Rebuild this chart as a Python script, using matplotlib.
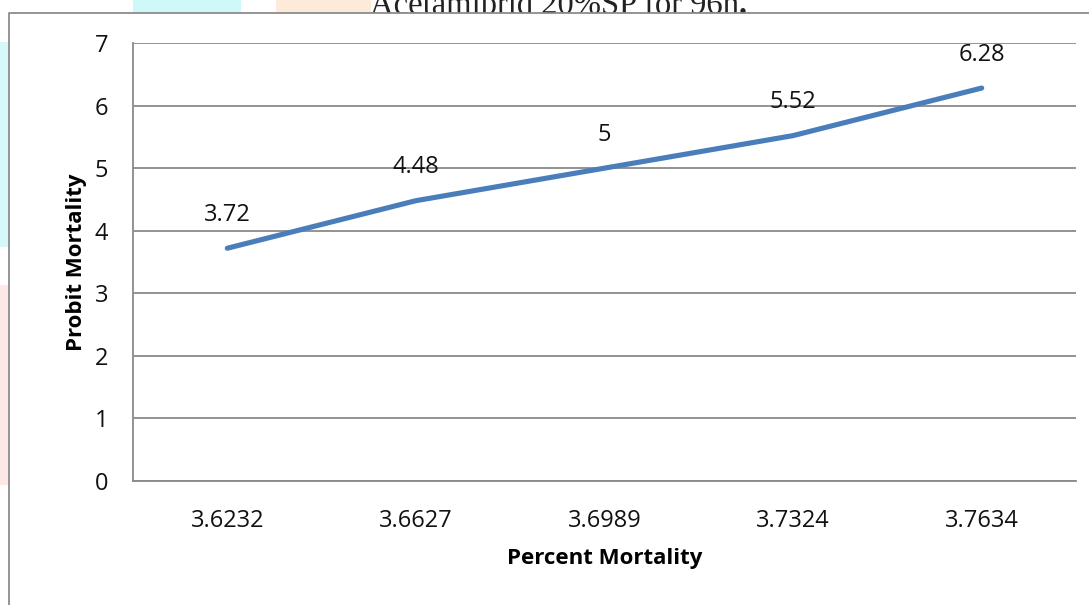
import matplotlib
matplotlib.use("Agg")
import matplotlib.pyplot as plt
from matplotlib.patches import Rectangle
from matplotlib.lines import Line2D

# Log dose vs probit values
categories = ["3.6232", "3.6627", "3.6989", "3.7324", "3.7634"]
probit = [3.72, 4.48, 5.0, 5.52, 6.28]
yticks = [0, 1, 2, 3, 4, 5, 6, 7]

title = "Acetamiprid 20%SP for 96h"
xlabel = "Percent Mortality"
ylabel = "Probit Mortality"

W, H = 1089, 605
fig = plt.figure(figsize=(W / 100, H / 100), dpi=100)
fig.patch.set_facecolor("white")

def fx(px):
    return px / W

def fy(py):
    return 1 - py / H

# faint page decorations behind the chart box
deco = [
    (0, 42, 12, 205, "#d6f8fa"),
    (0, 285, 12, 200, "#fde8e8"),
    (133, 0, 108, 13, "#cff8f8"),
    (276, 0, 95, 13, "#fdead8"),
]
for x0, y0, w, h, c in deco:
    fig.patches.append(Rectangle((fx(x0), fy(y0 + h)), w / W, h / H,
                                 transform=fig.transFigure, color=c,
                                 zorder=0, lw=0))

# document heading, partly hidden behind the chart box
head = fig.text(fx(370), fy(14), title, ha="left", va="baseline",
                fontsize=23.5, family="Liberation Serif", color="#222222", zorder=1)
renderer = fig.canvas.get_renderer()
bb = head.get_window_extent(renderer)
fig.text(bb.x1 / W, fy(14), ".", ha="left", va="baseline", fontsize=23.5,
         fontweight="bold", family="Liberation Serif", color="#222222", zorder=1)

# chart box
fig.patches.append(Rectangle((fx(9), 0), 1 - fx(9), fy(13), transform=fig.transFigure,
                             facecolor="white", edgecolor="none", zorder=2))
fig.lines.append(Line2D([fx(9), fx(9), 1.0], [0, fy(13), fy(13)],
                        transform=fig.transFigure, color="#8c8c8c", lw=1.3, zorder=3))

ax = fig.add_axes([fx(133), fy(481), fx(1076) - fx(133), fy(43) - fy(481)])
ax.set_zorder(4)
ax.patch.set_alpha(0)

x = list(range(len(categories)))
ax.plot(x, probit, color="#4a7ebb", lw=3.7, solid_capstyle="round", zorder=3)
for xi, v in zip(x, probit):
    ax.annotate(f"{v:g}", (xi, v), xytext=(0, 24), textcoords="offset points",
                ha="center", va="center", fontsize=17, family="Open Sans",
                color="#111111")

ax.set_xlim(-0.5, len(categories) - 0.5)
ax.set_ylim(0, 7)
ax.set_yticks(yticks)
ax.set_xticks(x)
ax.set_xticklabels(categories)
ax.grid(axis="y", color="#8a8a8a", lw=1.3)
ax.set_axisbelow(True)
for s in ["top", "right"]:
    ax.spines[s].set_visible(False)
for s in ["left", "bottom"]:
    ax.spines[s].set_color("#8a8a8a")
    ax.spines[s].set_linewidth(1.3)
ax.tick_params(length=0, labelsize=17, colors="#111111")
ax.tick_params(axis="x", pad=20)
ax.tick_params(axis="y", pad=18)
for lab in ax.get_xticklabels() + ax.get_yticklabels():
    lab.set_family("Open Sans")

ax.set_xlabel(xlabel, fontsize=16, fontweight="bold", family="Open Sans",
              labelpad=11)
ax.set_ylabel(ylabel, fontsize=16, fontweight="bold", family="Open Sans",
              labelpad=5)

fig.savefig("out.png", dpi=100)
